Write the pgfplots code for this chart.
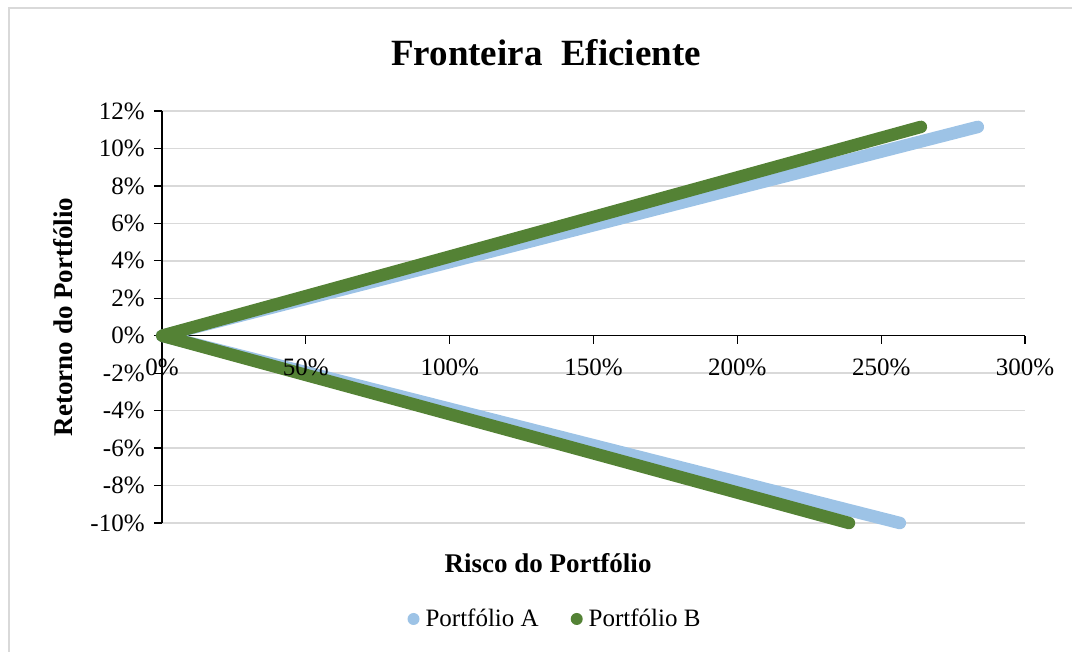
\documentclass[border=0pt]{standalone}
\usepackage{fontspec}
\setmainfont{Liberation Serif}
\usepackage{pgfplots}
\pgfplotsset{compat=1.18}
\definecolor{pA}{HTML}{9DC3E6}
\definecolor{pB}{HTML}{548235}
\definecolor{gridc}{HTML}{D9D9D9}
\pgfplotsset{
  common/.style={
    scale only axis, width=431.5pt, height=206pt,
    at={(81pt,64.5pt)}, anchor=south west,
    xmin=0, xmax=300, ymin=-10, ymax=12,
    xtick={0,50,...,300}, ytick={-10,-8,...,12},
    hide obscured x ticks=false, hide obscured y ticks=false,
    tick label style={font=\fontsize{12.5}{14}\selectfont},
  }
}
\begin{document}
\begin{tikzpicture}
\useasboundingbox (0,0) rectangle (536pt,326pt);
\draw[gridc, line width=1pt] (4.5pt,0pt) -- (4.5pt,322pt) -- (536pt,322pt);
\begin{axis}[
  common,
  axis x line=middle, axis y line=left,
  axis line style={-, line width=0.6pt, black},
  xticklabels={},
  yticklabels={-10\%,-8\%,-6\%,-4\%,-2\%,0\%,2\%,4\%,6\%,8\%,10\%,12\%},
  tick align=outside, major tick length=4pt,
  tick style={black, line width=0.6pt},
  ymajorgrids, grid style={gridc, line width=0.75pt},
  yticklabel style={anchor=east, inner sep=0pt, xshift=-4.5pt},
  clip=false,
  legend columns=2,
  legend style={at={(0.4566,-0.233)}, anchor=center, draw=none, fill=none,
    font=\fontsize{12.5}{14}\selectfont,
    /tikz/every odd column/.append style={column sep=1pt},
    /tikz/every even column/.append style={column sep=14pt}},
]
\addplot[color=pA, line width=6.25pt, line cap=round, line join=round,
  legend image code/.code={\path[fill=pA, draw=none] (0pt,0pt) circle (3pt);}]
  coordinates {(256.5,-10) (0,0) (283.6,11.15)};
\addlegendentry{Portfólio A}
\addplot[color=pB, line width=6.25pt, line cap=round, line join=round,
  legend image code/.code={\path[fill=pB, draw=none] (0pt,0pt) circle (3pt);}]
  coordinates {(238.8,-10) (0,0) (263.8,11.15)};
\addlegendentry{Portfólio B}
\end{axis}
\begin{axis}[
  common,
  axis x line=middle, axis y line=none,
  axis line style={draw=none},
  tick style={draw=none}, major tick length=0pt,
  xticklabels={0\%,50\%,100\%,150\%,200\%,250\%,300\%},
  xticklabel style={anchor=base, inner sep=0pt, yshift=-20pt},
]
\end{axis}
\node[anchor=base, font=\bfseries\fontsize{18.5}{20}\selectfont] at (273pt,293pt) {Fronteira\ \ Eficiente};
\node[anchor=base, font=\bfseries\fontsize{13.5}{15}\selectfont] at (274pt,39.5pt) {Risco do Portfólio};
\node[anchor=base, rotate=90, font=\bfseries\fontsize{13.5}{15}\selectfont] at (36pt,167.5pt) {Retorno do Portfólio};
\end{tikzpicture}
\end{document}
